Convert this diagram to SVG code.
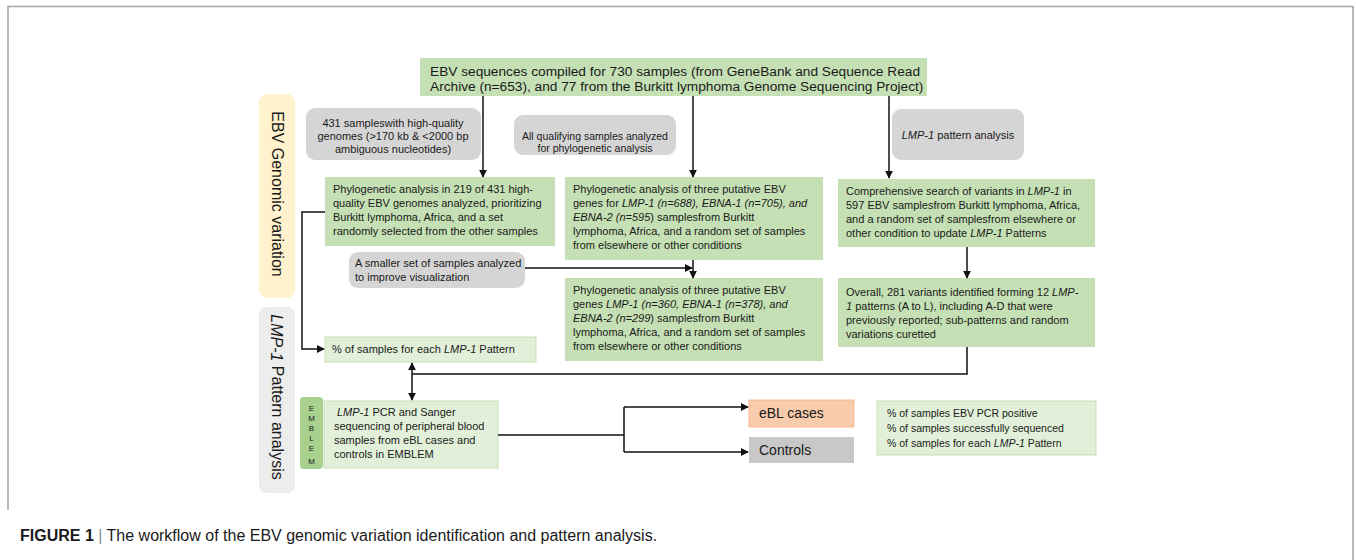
<svg xmlns="http://www.w3.org/2000/svg" width="1356" height="560" viewBox="0 0 1356 560">
<style>
.t{font-family:"Liberation Sans",Arial,sans-serif;fill:#1a1a1a}
.s11{font-size:11px}
.s10{font-size:10.5px}
.top{font-size:13.7px}
.band{font-size:16px}
.i{font-style:italic}
.g{fill:#c5e0b4}
.lg{fill:#e2f0d9;stroke:#c5dfb3;stroke-width:1}
.gr{fill:#d6d5d5}
.c{fill:none;stroke:#111;stroke-width:1.5}
.frame{fill:none;stroke:#a6a6a6;stroke-width:1.6}
</style>
<defs>
<marker id="ah" viewBox="0 0 10 10" refX="9" refY="5" markerWidth="8" markerHeight="8" markerUnits="userSpaceOnUse" orient="auto-start-reverse">
<path d="M0,0 L10,5 L0,10 z" fill="#111"/>
</marker>
</defs>
<rect width="1356" height="560" fill="#ffffff"/>
<path class="frame" d="M8,510 V6.5 H1353 V560"/>

<g id="band-genomic">
<rect x="259" y="94" width="36" height="204" rx="8" fill="#fff2cc"/>
<text class="t band" transform="translate(277,194) rotate(90)" text-anchor="middle" dominant-baseline="central">EBV Genomic variation</text>
</g>
<g id="band-lmp1">
<rect x="259" y="307" width="36" height="186" rx="8" fill="#ededed"/>
<text class="t band" transform="translate(277,397) rotate(90)" text-anchor="middle" dominant-baseline="central"><tspan class="i">LMP-1</tspan> Pattern analysis</text>
</g>

<g id="top">
<rect class="g" x="420" y="58" width="507" height="38"/>
<text class="t top" x="430" y="76">EBV sequences compiled for 730 samples (from GeneBank and Sequence Read</text>
<text class="t top" x="430" y="91">Archive (n=653), and 77 from the Burkitt lymphoma Genome Sequencing Project)</text>
</g>

<g id="hq">
<rect class="gr" x="306" y="108" width="175" height="52" rx="9"/>
<text class="t s11" x="393" y="127" text-anchor="middle">431 sampleswith high-quality</text>
<text class="t s11" x="393" y="140" text-anchor="middle">genomes (&gt;170 kb &amp; &lt;2000 bp</text>
<text class="t s11" x="393" y="153" text-anchor="middle">ambiguous nucleotides)</text>
</g>

<g id="allq">
<rect class="gr" x="514" y="115" width="162" height="40" rx="9"/>
<text class="t" font-size="10.5" x="595" y="140" text-anchor="middle">All qualifying samples analyzed</text>
<text class="t" font-size="10.5" x="595" y="152" text-anchor="middle">for phylogenetic analysis</text>
</g>

<g id="lmpa">
<rect class="gr" x="892" y="109" width="132" height="51" rx="9"/>
<text class="t s11" x="958" y="139" text-anchor="middle"><tspan class="i">LMP-1</tspan> pattern analysis</text>
</g>

<g id="phylo-left">
<rect class="g" x="325" y="177" width="230" height="69"/>
<text class="t s11" x="333" y="193">Phylogenetic analysis in 219 of 431 high-</text>
<text class="t s11" x="333" y="207">quality EBV genomes analyzed, prioritizing</text>
<text class="t s11" x="333" y="221">Burkitt lymphoma, Africa, and a  set</text>
<text class="t s11" x="333" y="235">randomly selected from the other samples</text>
</g>

<g id="phylo-mid1">
<rect class="g" x="565" y="177" width="258" height="83"/>
<text class="t s11" x="573" y="193">Phylogenetic analysis of three putative EBV</text>
<text class="t s11" x="573" y="207">genes for <tspan class="i">LMP-1 (n=688), EBNA-1 (n=705), and</tspan></text>
<text class="t s11" x="573" y="221"><tspan class="i">EBNA-2 (n=595</tspan>) samplesfrom Burkitt</text>
<text class="t s11" x="573" y="235">lymphoma, Africa, and a random set of samples</text>
<text class="t s11" x="573" y="249">from elsewhere or other conditions</text>
</g>

<g id="smaller">
<rect class="gr" x="349" y="252" width="176" height="36" rx="9"/>
<text class="t s11" x="355" y="267">A smaller set of samples analyzed</text>
<text class="t s11" x="355" y="281">to improve visualization</text>
</g>

<g id="phylo-mid2">
<rect class="g" x="565" y="278" width="258" height="83"/>
<text class="t s11" x="573" y="294">Phylogenetic analysis of three putative EBV</text>
<text class="t s11" x="573" y="308">genes <tspan class="i">LMP-1 (n=360, EBNA-1 (n=378), and</tspan></text>
<text class="t s11" x="573" y="322"><tspan class="i">EBNA-2 (n=299</tspan>) samplesfrom Burkitt</text>
<text class="t s11" x="573" y="336">lymphoma, Africa, and a random set of samples</text>
<text class="t s11" x="573" y="350">from elsewhere or other conditions</text>
</g>

<g id="comp">
<rect class="g" x="838" y="179" width="257" height="68"/>
<text class="t s11" x="846" y="195">Comprehensive search of variants in <tspan class="i">LMP-1</tspan> in</text>
<text class="t s11" x="846" y="209">597 EBV samplesfrom Burkitt lymphoma, Africa,</text>
<text class="t s11" x="846" y="223">and a random set of samplesfrom elsewhere or</text>
<text class="t s11" x="846" y="237">other condition to update <tspan class="i">LMP-1</tspan> Patterns</text>
</g>

<g id="overall">
<rect class="g" x="838" y="278" width="257" height="69"/>
<text class="t s11" x="846" y="296">Overall, 281 variants identified forming 12 <tspan class="i">LMP-</tspan></text>
<text class="t s11" x="846" y="310"><tspan class="i">1</tspan> patterns (A to L), including A-D that were</text>
<text class="t s11" x="846" y="324">previously reported; sub-patterns and random</text>
<text class="t s11" x="846" y="338">variations curetted</text>
</g>

<g id="pct">
<rect class="lg" x="325" y="337" width="211" height="25"/>
<text class="t s11" x="332" y="353">% of samples for each <tspan class="i">LMP-1</tspan> Pattern</text>
</g>

<g id="emblem-tab">
<rect x="300" y="397" width="23" height="72" rx="4" fill="#a9d18e"/>
<g class="t" font-size="8" text-anchor="middle">
<text x="311.5" y="411">E</text>
<text x="311.5" y="421">M</text>
<text x="311.5" y="431">B</text>
<text x="311.5" y="441">L</text>
<text x="311.5" y="451">E</text>
<text x="311.5" y="464">M</text>
</g>
</g>

<g id="emblem">
<rect class="lg" x="324" y="401" width="174" height="67"/>
<text class="t s11" x="337" y="416"><tspan class="i">LMP-1</tspan> PCR and Sanger</text>
<text class="t s11" x="334" y="430">sequencing of peripheral blood</text>
<text class="t s11" x="334" y="444">samples from eBL cases and</text>
<text class="t s11" x="334" y="458">controls in EMBLEM</text>
</g>

<g id="ebl">
<rect x="749" y="400" width="105" height="27" fill="#f8cbad" stroke="#f4b183" stroke-width="0.8"/>
<text class="t" font-size="14" x="759" y="418">eBL cases</text>
</g>

<g id="controls">
<rect x="749" y="437" width="105" height="26" fill="#c8c8c8"/>
<text class="t" font-size="14" x="759" y="455">Controls</text>
</g>

<g id="results">
<rect class="lg" x="877" y="401" width="219" height="54"/>
<text class="t s10" x="887" y="417">% of samples EBV PCR positive</text>
<text class="t s10" x="887" y="432">% of samples successfully sequenced</text>
<text class="t s10" x="887" y="447">% of samples for each <tspan class="i">LMP-1</tspan> Pattern</text>
</g>

<g id="connectors">
<path class="c" d="M483,96 V177" marker-end="url(#ah)"/>
<path class="c" d="M693,96 V177" marker-end="url(#ah)"/>
<path class="c" d="M889,96 V178" marker-end="url(#ah)"/>
<path class="c" d="M325,212 H302 V349 H324" marker-end="url(#ah)"/>
<path class="c" d="M525,268 H692" marker-end="url(#ah)"/>
<path class="c" d="M693,260 V278" marker-end="url(#ah)"/>
<path class="c" d="M967,247 V278" marker-end="url(#ah)"/>
<path class="c" d="M967,347 V374 H412"/>
<path class="c" d="M412,363 V400" marker-start="url(#ah)" marker-end="url(#ah)"/>
<path class="c" d="M498,435 H624"/>
<path class="c" d="M624,407 V452"/>
<path class="c" d="M624,407 H748" marker-end="url(#ah)"/>
<path class="c" d="M624,452 H748" marker-end="url(#ah)"/>
</g>

<g id="caption">
<text class="t" font-size="16" x="20" y="541"><tspan font-weight="bold">FIGURE 1</tspan><tspan fill="#888"> | </tspan>The workflow of the EBV genomic variation identification and pattern analysis.</text>
</g>
</svg>
